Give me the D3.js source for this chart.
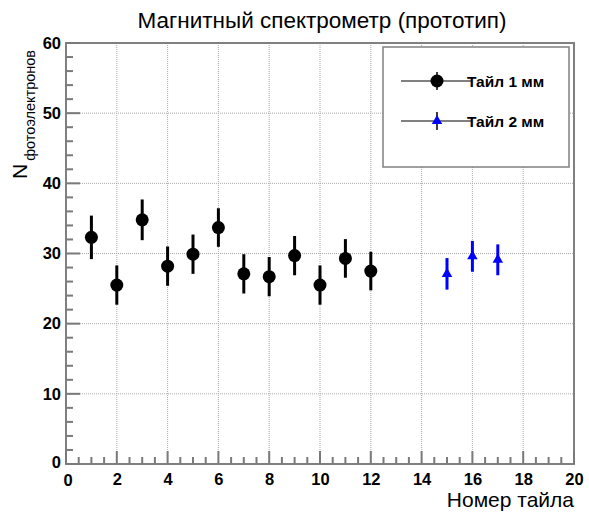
<!DOCTYPE html>
<html>
<head>
<meta charset="utf-8">
<script src="https://cdn.jsdelivr.net/npm/d3@7"></script>
<style>
  body { margin: 0; background: #fff; }
</style>
</head>
<body>
<div id="chart"></div>
<script>
// tile numbers and photoelectron counts
var tiles1 = [1, 2, 3, 4, 5, 6, 7, 8, 9, 10, 11, 12];
var counts1 = [32.3, 25.5, 34.8, 28.2, 29.9, 33.7, 27.1, 26.7, 29.7, 25.5, 29.3, 27.5];
var errs1 = [3.1, 2.8, 2.9, 2.8, 2.8, 2.75, 2.8, 2.8, 2.8, 2.8, 2.75, 2.75];

var tiles2 = [15, 16, 17];
var counts2 = [27.1, 29.6, 29.1];
var errs2 = [2.25, 2.2, 2.2];

var xTicks = [0, 2, 4, 6, 8, 10, 12, 14, 16, 18, 20];
var yTicks = [0, 10, 20, 30, 40, 50, 60];
var legendLabels = ["Тайл 1 мм", "Тайл 2 мм"];

var FONT = "'Liberation Sans', Arial, sans-serif";

var svgWidth = 589, svgHeight = 512;
var margin = { top: 43, right: 15, bottom: 48, left: 66 };
var width = svgWidth - margin.left - margin.right;
var height = svgHeight - margin.top - margin.bottom;

var svg = d3.select("#chart").append("svg")
  .attr("width", svgWidth)
  .attr("height", svgHeight)
  .style("font-family", FONT);

var x = d3.scaleLinear().domain([0, 20]).range([0, width]);
var y = d3.scaleLinear().domain([0, 60]).range([height, 0]);

var g = svg.append("g")
  .attr("transform", `translate(${margin.left}, ${margin.top})`);

// dotted grid
g.selectAll(".gx").data(xTicks.slice(1, -1)).enter().append("line")
  .attr("x1", d => x(d)).attr("x2", d => x(d))
  .attr("y1", 0).attr("y2", height)
  .attr("stroke", "#aaa").attr("stroke-width", 1)
  .attr("stroke-dasharray", "1,1");
g.selectAll(".gy").data(yTicks.slice(1, -1)).enter().append("line")
  .attr("x1", 0).attr("x2", width)
  .attr("y1", d => y(d)).attr("y2", d => y(d))
  .attr("stroke", "#aaa").attr("stroke-width", 1)
  .attr("stroke-dasharray", "1,1");

// frame
g.append("rect")
  .attr("width", width).attr("height", height)
  .attr("fill", "none").attr("stroke", "#808080").attr("stroke-width", 2);

// tick marks, pointing inward like ROOT does
var xMinor = d3.range(0, 20.01, 0.5).filter(v => v % 2 !== 0);
var yMinor = d3.range(0, 60.01, 2).filter(v => v % 10 !== 0);
var tickGrey = "#7a7a7a";

g.selectAll(".xt").data(xTicks.concat(xMinor)).enter().append("rect")
  .attr("x", d => x(d) - 1).attr("width", 2)
  .attr("y", d => height - (xTicks.indexOf(d) >= 0 ? 13 : 7))
  .attr("height", d => (xTicks.indexOf(d) >= 0 ? 13 : 7))
  .attr("fill", tickGrey);
g.selectAll(".yt").data(yTicks.concat(yMinor)).enter().append("rect")
  .attr("x", 0).attr("height", 2)
  .attr("y", d => y(d) - 1)
  .attr("width", d => (yTicks.indexOf(d) >= 0 ? 14 : 7))
  .attr("fill", tickGrey);

// tick labels from the axis generators (their own tick lines hidden)
var xAxis = g.append("g")
  .attr("transform", `translate(0, ${height})`)
  .call(d3.axisBottom(x).tickValues(xTicks).tickSize(0).tickPadding(9));
var yAxis = g.append("g")
  .call(d3.axisLeft(y).tickValues(yTicks).tickSize(0).tickPadding(5));

xAxis.select(".domain").remove();
yAxis.select(".domain").remove();
xAxis.selectAll(".tick line").remove();
yAxis.selectAll(".tick line").remove();
g.selectAll(".tick text")
  .style("font-family", FONT)
  .style("font-size", "16.5px").style("font-weight", "bold").attr("fill", "#000");
yAxis.selectAll(".tick text").filter(d => d === 0).attr("dy", "0.2em");
xAxis.selectAll(".tick text").filter(d => d === 0).attr("dx", "0.1em").attr("dy", "0.8em");

// data
var s1 = tiles1.map((t, i) => ({ x: t, y: counts1[i], e: errs1[i] }));
var s2 = tiles2.map((t, i) => ({ x: t, y: counts2[i], e: errs2[i] }));

g.selectAll(".e1").data(s1).enter().append("line")
  .attr("x1", d => x(d.x)).attr("x2", d => x(d.x))
  .attr("y1", d => y(d.y - d.e)).attr("y2", d => y(d.y + d.e))
  .attr("stroke", "#000").attr("stroke-width", 3);
g.selectAll(".m1").data(s1).enter().append("circle")
  .attr("cx", d => x(d.x)).attr("cy", d => y(d.y))
  .attr("r", 6.5).attr("fill", "#000");

g.selectAll(".e2").data(s2).enter().append("line")
  .attr("x1", d => x(d.x)).attr("x2", d => x(d.x))
  .attr("y1", d => y(d.y - d.e)).attr("y2", d => y(d.y + d.e))
  .attr("stroke", "#0000ff").attr("stroke-width", 3);
g.selectAll(".m2").data(s2).enter().append("path")
  .attr("d", d3.symbol(d3.symbolTriangle, 48))
  .attr("transform", d => `translate(${x(d.x)}, ${y(d.y)})`)
  .attr("fill", "#0000ff");

// legend
var leg = svg.append("g").attr("transform", "translate(383, 47)");
leg.append("rect")
  .attr("width", 186).attr("height", 120)
  .attr("fill", "#fff").attr("stroke", "#808080").attr("stroke-width", 1.5);
var rows = [34, 74];
legendLabels.forEach(function (lab, i) {
  var r = leg.append("g").attr("transform", `translate(0, ${rows[i]})`);
  r.append("line").attr("x1", 18).attr("x2", 88).attr("y1", 0).attr("y2", 0)
    .attr("stroke", "#808080").attr("stroke-width", 2);
  r.append("line").attr("x1", 54).attr("x2", 54).attr("y1", -9).attr("y2", 9)
    .attr("stroke", "#000").attr("stroke-width", 1.5);
  if (i === 0) {
    r.append("circle").attr("cx", 54).attr("cy", 0).attr("r", 6.5).attr("fill", "#000");
  } else {
    r.append("path").attr("d", d3.symbol(d3.symbolTriangle, 48))
      .attr("transform", "translate(54, 0)").attr("fill", "#0000ff");
  }
  r.append("text").attr("x", 84).attr("y", 5.5)
    .style("font-size", "15.5px").style("font-weight", "bold").text(lab);
});

// title and axis titles
svg.append("text")
  .attr("x", 322).attr("y", 28)
  .attr("text-anchor", "middle").style("font-size", "22.5px")
  .text("Магнитный спектрометр (прототип)");

svg.append("text")
  .attr("x", 574).attr("y", 507)
  .attr("text-anchor", "end").style("font-size", "21px")
  .text("Номер тайла");

var yt = svg.append("text")
  .attr("transform", "translate(27, 179) rotate(-90)")
  .style("font-size", "21px");
yt.append("tspan").text("N");
yt.append("tspan").attr("dx", 3).attr("dy", 8).style("font-size", "14.5px").text("фотоэлектронов");
</script>
</body>
</html>
